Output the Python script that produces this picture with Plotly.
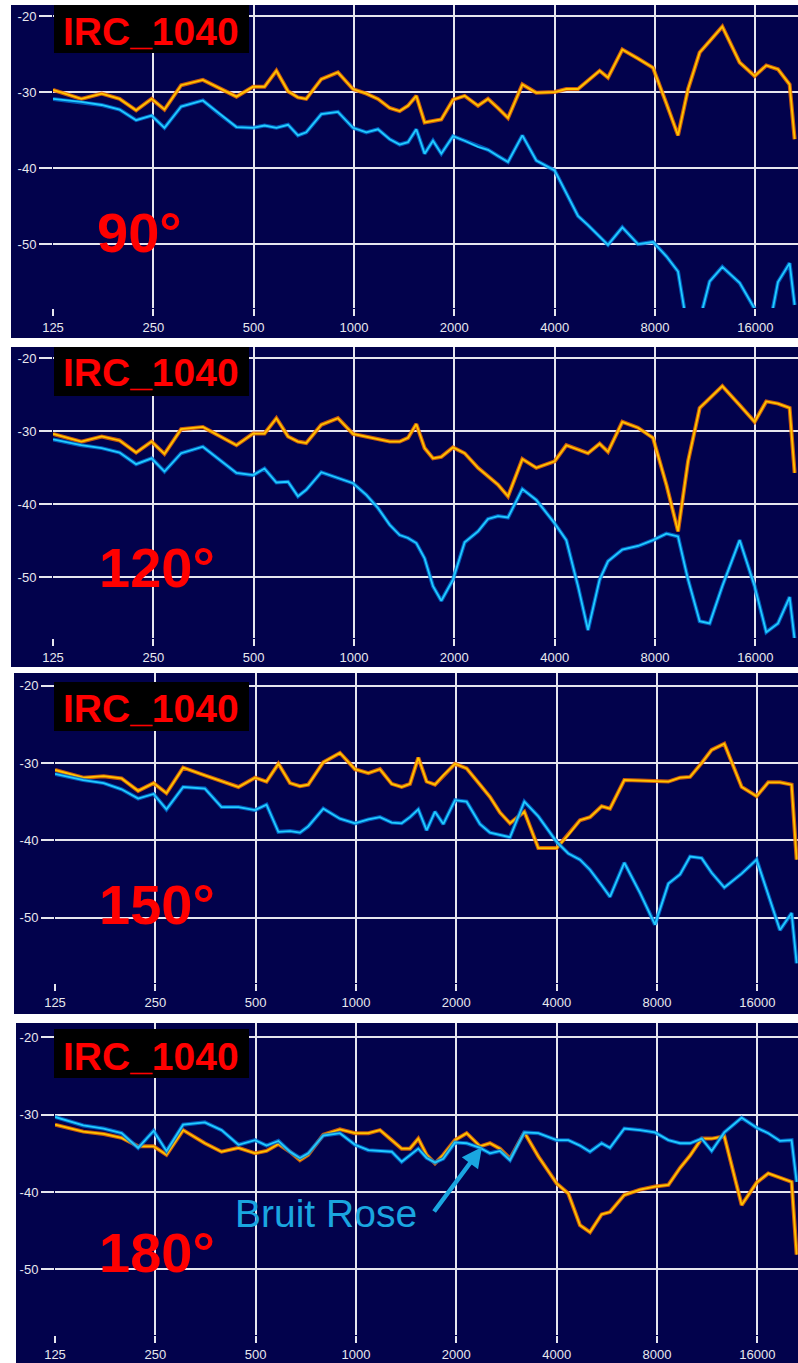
import math
import plotly.graph_objects as go

W, H = 798, 1363

# Shared frequency grid (Hz) of the measured responses
FREQ_HZ = [125, 152, 175, 198, 222, 247, 270, 303, 352, 395, 444, 498, 539, 585, 634,
           679, 719, 798, 895, 993, 1089, 1180, 1280, 1371, 1452, 1538, 1629, 1726,
           1828, 1982, 2148, 2356, 2524, 2704, 2898, 3200, 3524, 4000, 4335, 4700,
           5036, 5458, 5782, 6384, 7114, 7892, 8656, 9381, 10055, 10894, 11672,
           12740, 14360, 15925, 17260, 18710, 20280, 20995]

# Level (dB) of the IRC_1040 source, orange trace
ORANGE_90 = [-29.7, -30.9, -30.2, -30.9, -32.4, -30.9, -32.3, -29.1, -28.4, -29.5,
             -30.6, -29.3, -29.3, -27.2, -29.9, -30.7, -30.9, -28.3, -27.4, -29.6,
             -30.2, -30.9, -32.1, -32.5, -31.8, -30.5, -34.0, -33.8, -33.6, -31.0,
             -30.5, -31.8, -30.9, -32.1, -33.4, -29.0, -30.1, -30.0, -29.6, -29.6,
             -28.5, -27.2, -28.1, -24.4, -25.6, -26.8, -31.5, -35.7, -29.6, -24.8,
             -23.3, -21.4, -26.1, -27.9, -26.5, -27.0, -29.0, -36.2]
ORANGE_120 = [-30.35, -31.4, -30.7, -31.25, -32.9, -31.4, -33.1, -29.7, -29.4, -30.6,
              -31.9, -30.3, -30.3, -28.2, -30.7, -31.4, -31.6, -29.1, -28.2, -30.35,
              -30.7, -31.1, -31.4, -31.4, -30.9, -29.0, -32.3, -33.7, -33.5, -32.2,
              -33.0, -35.0, -36.2, -37.3, -38.9, -33.8, -35.0, -34.1, -31.9, -32.5,
              -33.0, -31.7, -32.8, -28.7, -29.5, -30.9, -37.3, -43.7, -34.1, -26.8,
              -25.5, -23.8, -26.4, -28.7, -25.9, -26.2, -26.8, -35.7]
ORANGE_150 = [-30.9, -31.9, -31.7, -32.0, -33.6, -32.6, -33.9, -30.6, -31.6, -32.3,
              -33.1, -31.9, -32.4, -30.1, -32.6, -33.0, -32.8, -29.9, -28.7, -30.8,
              -31.3, -30.8, -32.7, -33.1, -32.7, -29.3, -32.4, -32.8, -31.6, -30.1,
              -30.7, -32.8, -34.4, -36.4, -37.8, -36.3, -41.0, -41.0, -39.3, -37.4,
              -37.0, -35.6, -35.9, -32.2, -32.25, -32.3, -32.4, -31.9, -31.8, -30.0,
              -28.3, -27.5, -33.1, -34.3, -32.5, -32.5, -32.8, -42.5]
ORANGE_180 = [-31.3, -32.2, -32.5, -33.0, -34.1, -34.1, -35.2, -32.0, -33.7, -34.8,
              -34.3, -35.0, -34.7, -33.8, -34.8, -35.9, -35.2, -32.6, -31.9, -32.4,
              -32.4, -32.0, -33.3, -34.4, -34.4, -33.1, -35.2, -36.3, -35.2, -33.3,
              -32.4, -34.1, -33.7, -34.4, -35.7, -32.3, -35.4, -38.9, -40.2, -44.3,
              -45.2, -42.9, -42.6, -40.4, -39.7, -39.3, -39.1, -36.9, -35.3, -33.1,
              -33.1, -32.8, -41.7, -38.8, -37.6, -38.2, -38.7, -48.1]

# Level (dB) of the pink-noise reference, blue trace
BLUE_90 = [-30.9, -31.3, -31.7, -32.3, -33.7, -33.1, -34.7, -31.9, -31.1, -32.9,
           -34.6, -34.7, -34.4, -34.7, -34.3, -35.7, -35.3, -32.9, -32.6, -34.7,
           -35.3, -34.9, -36.2, -36.9, -36.6, -34.9, -38.1, -36.4, -38.1, -35.8,
           -36.4, -37.2, -37.6, -38.4, -39.2, -35.7, -39.0, -40.3, -43.2, -46.3,
           -47.5, -49.0, -50.1, -47.8, -50.0, -49.7, -51.6, -53.6, -61.5, -60.0,
           -54.9, -53.0, -55.1, -58.5, -63.0, -55.0, -52.5, -58.0]
BLUE_120 = [-31.1, -31.9, -32.3, -32.9, -34.5, -33.7, -35.5, -33.0, -32.1, -33.9,
            -35.7, -36.0, -35.1, -37.0, -36.9, -38.9, -38.0, -35.6, -36.4, -37.1,
            -38.7, -40.5, -42.8, -44.2, -44.6, -45.3, -47.4, -51.2, -53.2, -50.3,
            -45.2, -43.7, -42.0, -41.6, -41.8, -37.9, -39.4, -42.6, -44.9, -51.2,
            -57.2, -50.3, -47.8, -46.2, -45.7, -44.9, -44.0, -44.4, -50.3, -56.0,
            -56.3, -51.2, -44.9, -51.2, -57.5, -56.3, -52.7, -58.5]
BLUE_150 = [-31.4, -32.2, -32.6, -33.4, -34.6, -34.0, -36.0, -33.1, -33.3, -35.7,
            -35.7, -36.1, -35.4, -38.9, -38.8, -39.0, -38.2, -35.9, -37.2, -37.8,
            -37.3, -37.0, -37.7, -37.8, -37.0, -36.0, -38.7, -36.3, -37.9, -34.8,
            -35.0, -37.9, -39.0, -39.3, -39.6, -35.0, -36.9, -40.2, -41.7, -42.5,
            -43.8, -45.8, -47.3, -42.9, -46.8, -50.9, -45.6, -44.4, -42.1, -42.3,
            -44.2, -46.1, -44.3, -42.5, -46.9, -51.6, -49.4, -55.9]
BLUE_180 = [-30.3, -31.4, -31.8, -32.4, -34.3, -32.1, -34.7, -31.3, -31.0, -32.0,
            -33.9, -33.3, -34.0, -33.4, -34.8, -35.6, -35.0, -32.7, -32.4, -33.9,
            -34.6, -34.7, -34.8, -36.1, -35.3, -34.4, -35.6, -36.2, -35.7, -33.6,
            -33.7, -34.3, -35.0, -34.7, -35.9, -32.3, -32.4, -33.3, -33.3, -34.0,
            -34.8, -33.7, -34.3, -31.8, -32.0, -32.3, -33.3, -33.7, -33.7, -33.1,
            -34.7, -32.3, -30.4, -31.7, -32.4, -33.4, -33.3, -38.7]

TICK_HZ = [125, 250, 500, 1000, 2000, 4000, 8000, 16000]
TICK_HZ_TEXT = ["125", "250", "500", "1000", "2000", "4000", "8000", "16000"]
TICK_DB = [-20, -30, -40, -50]
TICK_DB_TEXT = ["-20", "-30", "-40", "-50"]
ANGLES = ["90°", "120°", "150°", "180°"]
MODEL = "IRC_1040"
NOISE_LABEL = "Bruit Rose"

ORANGE = [ORANGE_90, ORANGE_120, ORANGE_150, ORANGE_180]
BLUE = [BLUE_90, BLUE_120, BLUE_150, BLUE_180]

NAVY = "#02024c"
GRID = "#e6e6ee"
TEXT_LIGHT = "#e8e8ee"
RED = "#ff0000"
SKY = "#1aa6e0"
PX_PER_OCT = 100.33
RIGHT = 798

# panel geometry in pixels
PANELS = [
    dict(left=53, top=5, bottom=308, back=(11, 5, 338), yr=(-58.4, -18.55),
         box=(5, 53), model_y=31.5, angle=(95, 233)),
    dict(left=53, top=347, bottom=638, back=(11, 347, 667), yr=(-58.3, -18.45),
         box=(347, 396), model_y=372.5, angle=(97, 567)),
    dict(left=55, top=673, bottom=983, back=(14, 673, 1014), yr=(-58.45, -18.36),
         box=(682, 731), model_y=708.5, angle=(97, 904)),
    dict(left=55, top=1023, bottom=1335, back=(16, 1023, 1363), yr=(-58.5, -18.15),
         box=(1029, 1078), model_y=1056, angle=(97, 1252)),
]


def px(x):
    return x / W


def py(y):
    return 1 - y / H


fig = go.Figure()
shapes = []
annotations = []
layout_axes = {}

for i, p in enumerate(PANELS):
    n = "" if i == 0 else str(i + 1)
    xa, ya = "x" + n, "y" + n

    # dark backdrop behind the whole panel, including tick labels
    bl, bt, bb = p["back"]
    shapes.append(dict(type="rect", xref="paper", yref="paper", layer="below",
                       x0=px(bl), x1=px(RIGHT), y0=py(bb), y1=py(bt),
                       fillcolor=NAVY, line=dict(width=0)))

    for series, glow, core in ((ORANGE[i], "rgba(235,105,0,0.85)", "#ffc400"),
                               (BLUE[i], "rgba(0,110,210,0.8)", "#22ccff")):
        fig.add_trace(go.Scatter(x=FREQ_HZ, y=series, mode="lines", xaxis=xa, yaxis=ya,
                                 line=dict(color=glow, width=4.0), hoverinfo="skip",
                                 showlegend=False))
        fig.add_trace(go.Scatter(x=FREQ_HZ, y=series, mode="lines", xaxis=xa, yaxis=ya,
                                 line=dict(color=core, width=1.8), showlegend=False))

    lo = math.log10(125)
    hi = lo + (RIGHT - p["left"]) / PX_PER_OCT * math.log10(2)
    layout_axes["xaxis" + n] = dict(
        type="log", range=[lo, hi], domain=[px(p["left"]), px(RIGHT)],
        anchor=ya, tickvals=TICK_HZ, ticktext=TICK_HZ_TEXT, automargin=False,
        showgrid=True, gridcolor=GRID, gridwidth=1.6, zeroline=False, showline=False,
        ticks="outside", ticklen=7, tickwidth=1.6, tickcolor=GRID,
        tickfont=dict(family="Liberation Sans, Arial", size=13, color=TEXT_LIGHT),
        fixedrange=True)
    layout_axes["yaxis" + n] = dict(
        range=list(p["yr"]), domain=[py(p["bottom"]), py(p["top"])],
        anchor=xa, tickvals=TICK_DB, ticktext=TICK_DB_TEXT, automargin=False,
        showgrid=True, gridcolor=GRID, gridwidth=1.6, zeroline=False, showline=False,
        ticks="outside", ticklen=13, tickwidth=1.6, tickcolor=GRID,
        tickfont=dict(family="Liberation Sans, Arial", size=13, color=TEXT_LIGHT),
        fixedrange=True)

    # model label on a black plate
    b0, b1 = p["box"]
    shapes.append(dict(type="rect", xref="paper", yref="paper", layer="above",
                       x0=px(54), x1=px(249), y0=py(b1), y1=py(b0),
                       fillcolor="#000000", line=dict(width=0)))
    annotations.append(dict(text=MODEL, xref="paper", yref="paper",
                            x=px(61), y=py(p["model_y"]), xanchor="left", yanchor="middle",
                            showarrow=False,
                            font=dict(family="Liberation Sans, Arial", size=39,
                                      color=RED, weight="bold")))
    ax_, ay_ = p["angle"]
    annotations.append(dict(text=ANGLES[i], xref="paper", yref="paper",
                            x=px(ax_), y=py(ay_), xanchor="left", yanchor="middle",
                            showarrow=False,
                            font=dict(family="Liberation Sans, Arial", size=56,
                                      color=RED, weight="bold")))

# pink-noise callout on the last panel
annotations.append(dict(text=NOISE_LABEL, xref="paper", yref="paper",
                        x=px(233), y=py(1213.5), xanchor="left", yanchor="middle",
                        showarrow=False,
                        font=dict(family="Liberation Sans, Arial", size=39, color=SKY)))
annotations.append(dict(text="", xref="paper", yref="paper",
                        x=px(482), y=py(1147), ax=-49, ay=66,
                        showarrow=True, arrowhead=2, arrowsize=0.9, arrowwidth=4.5,
                        arrowcolor=SKY))

fig.update_layout(
    width=W, height=H, margin=dict(l=0, r=0, t=0, b=0, autoexpand=False),
    paper_bgcolor="#ffffff", plot_bgcolor=NAVY,
    shapes=shapes, annotations=annotations, showlegend=False,
    **layout_axes,
)

fig.write_html("out.html")
